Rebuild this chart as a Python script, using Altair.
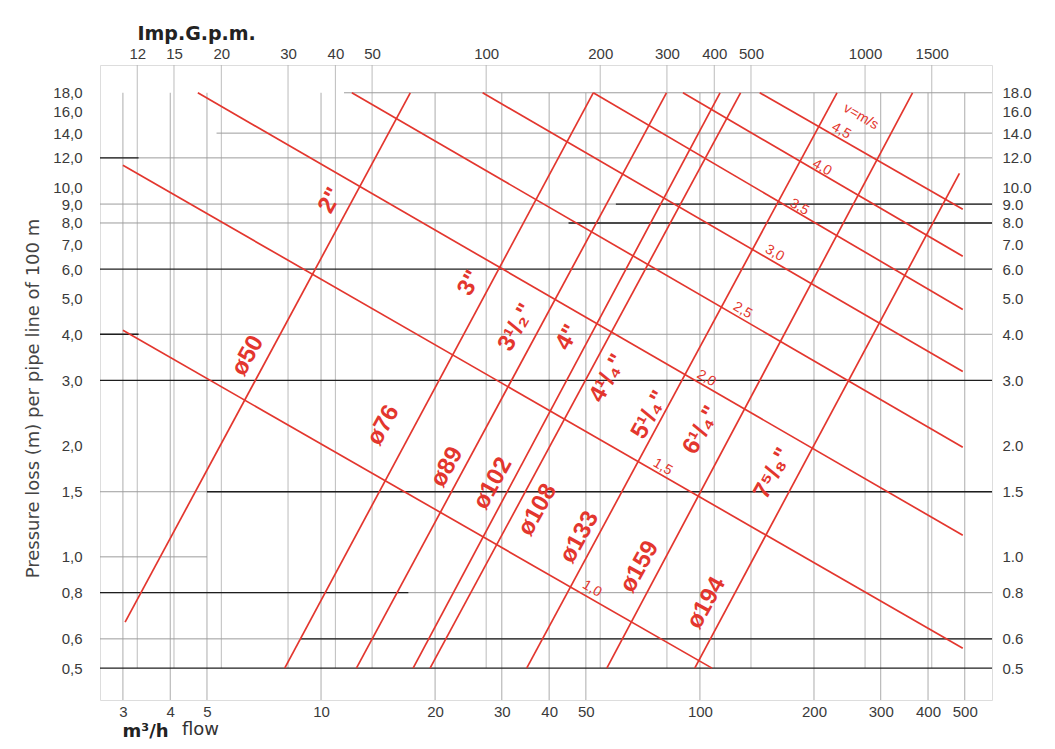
import altair as alt
import pandas as pd

# ---------------- data ----------------
X_MIN, X_MAX = 2.61, 590.0      # flow m3/h covered by the drawing area
Y_MIN, Y_MAX = 0.41, 21.4       # pressure loss m / 100 m covered by drawing area

flow_ticks = [3, 4, 5, 10, 20, 30, 40, 50, 100, 200, 300, 400, 500]
gpm_ticks = [12, 15, 20, 30, 40, 50, 100, 200, 300, 400, 500, 1000, 1500]
GPM_PER_M3H = 3.666
loss_ticks = [0.5, 0.6, 0.8, 1.0, 1.5, 2.0, 3.0, 4.0, 5.0, 6.0, 7.0, 8.0, 9.0,
              10.0, 12.0, 14.0, 16.0, 18.0]

# pipe lines (constant diameter)
pipe_mm = ["ø50", "ø76", "ø89", "ø102", "ø108", "ø133", "ø159", "ø194"]
pipe_inch = ['2"', '3"', '3¹/₂"', '4"', '4¹/₄"', '5¹/₄"', '6¹/₄"', '7⁵/₈"']
pipe_q1 = [3.04, 8.02, 12.4, 17.5, 19.4, 34.9, 56.8, 96.9]
pipe_j1 = [0.666, 0.5, 0.5, 0.5, 0.5, 0.5, 0.5, 0.5]
pipe_q2 = [17.2, 52.3, 81.6, 113, 128, 230, 364, 484]
pipe_j2 = [18, 18, 18, 18, 18, 18, 18, 10.9]
pipe_mm_q = [6.41, 14.6, 21.5, 28.4, 37.3, 48.1, 69.3, 104]
pipe_mm_j = [3.5, 2.27, 1.75, 1.58, 1.34, 1.13, 0.94, 0.75]
pipe_inch_q = [10.6, 24.7, 32.8, 44.8, 57.2, 73.8, 101, 156]
pipe_inch_j = [9.2, 5.5, 4.17, 3.92, 3.04, 2.42, 2.2, 1.68]

# velocity lines (v = m/s)
vel_names = ["1,0", "1,5", "2,0", "2,5", "3,0", "3,5", "4,0", "4,5"]
vel_q1 = [3, 3, 4.73, 12.06, 26.7, 52.3, 90.2, 143.8]
vel_j1 = [4.1, 11.46, 18, 18, 18, 18, 18, 18]
vel_q2 = [107.6, 494, 494, 494, 494, 494, 494, 494]
vel_j2 = [0.5, 0.566, 1.144, 1.98, 3.17, 4.67, 6.5, 8.71]
vel_label_q = [51.9, 79.8, 104, 129.6, 157.5, 183, 210, 236]
vel_label_j = [0.82, 1.75, 3.04, 4.64, 6.63, 8.83, 11.3, 14.2]
vel_unit_label = "v=m/s"
vel_unit_q, vel_unit_j = 266, 15.5

# horizontal grid segments (grey and black)
hgrey_value = [18, 14, 12, 9, 8, 4, 1.5, 1.0, 0.8, 0.6]
hgrey_from = [11.5, 5.3, X_MIN, X_MIN, X_MIN, X_MIN, X_MIN, X_MIN, X_MIN, X_MIN]
hgrey_to = [X_MAX, X_MAX, X_MAX, X_MAX, X_MAX, X_MAX, X_MAX, 5.0, X_MAX, X_MAX]
hdark_value = [12, 9, 8, 6, 4, 3, 1.5, 0.8, 0.6, 0.5]
hdark_from = [X_MIN, 60, 45, X_MIN, X_MIN, X_MIN, 5.0, X_MIN, 8.8, X_MIN]
hdark_to = [3.3, X_MAX, X_MAX, X_MAX, 3.3, X_MAX, X_MAX, 17, X_MAX, X_MAX]

# ---------------- tables ----------------
bottom_v = pd.DataFrame({"q": flow_ticks, "j": [Y_MIN] * len(flow_ticks),
                         "j2": [18] * len(flow_ticks)})
top_q = [g / GPM_PER_M3H for g in gpm_ticks]
top_v = pd.DataFrame({"q": top_q, "j": [0.5] * len(top_q), "j2": [Y_MAX] * len(top_q)})
hgrey = pd.DataFrame({"j": hgrey_value, "q": hgrey_from, "q2": hgrey_to})
hdark = pd.DataFrame({"j": hdark_value, "q": hdark_from, "q2": hdark_to})

rows = []
for i, n in enumerate(pipe_mm):
    rows.append({"id": "p" + n, "q": pipe_q1[i], "j": pipe_j1[i]})
    rows.append({"id": "p" + n, "q": pipe_q2[i], "j": pipe_j2[i]})
for i, n in enumerate(vel_names):
    rows.append({"id": "v" + n, "q": vel_q1[i], "j": vel_j1[i]})
    rows.append({"id": "v" + n, "q": vel_q2[i], "j": vel_j2[i]})
lines = pd.DataFrame(rows)

pipe_labels = pd.DataFrame({"t": pipe_mm + pipe_inch,
                            "q": pipe_mm_q + pipe_inch_q,
                            "j": pipe_mm_j + pipe_inch_j})
vel_labels = pd.DataFrame({"t": vel_names + [vel_unit_label],
                           "q": vel_label_q + [vel_unit_q],
                           "j": vel_label_j + [vel_unit_j]})

# ---------------- scales / styles ----------------
FONT = "Liberation Sans"
TFONT = "DejaVu Sans"
RED = "#e3362e"
xs = alt.Scale(type="log", domain=[X_MIN, X_MAX], nice=False)
ys = alt.Scale(type="log", domain=[Y_MIN, Y_MAX], nice=False)

ax_common = dict(domain=False, ticks=False, grid=False, labelFont=FONT,
                 labelColor="#3a3a3a", labelFontSize=15, labelOverlap=False,
                 labelFlush=False, titleFont=TFONT)

bottom_axis = alt.Axis(orient="bottom", values=flow_ticks, format="d", labelPadding=4,
                       title="m³/h", titleX=22, titleY=36, titleAlign="left",
                       titleBaseline="alphabetic", titleFontSize=18,
                       titleFontWeight="bold", titleColor="#222", **ax_common)
top_axis = alt.Axis(orient="top", values=top_q, labelPadding=4,
                    labelExpr="format(datum.value * 3.666, '.0f')",
                    title="Imp.G.p.m.", titleX=37, titleY=-26, titleAlign="left",
                    titleBaseline="alphabetic", titleFontSize=19,
                    titleFontWeight="bold", titleColor="#222", **ax_common)
left_axis = alt.Axis(orient="left", values=loss_ticks, labelPadding=18,
                     labelExpr="replace(format(datum.value, '.1f'), '.', ',')",
                     title="Pressure loss (m) per pipe line of 100 m", titleAngle=270,
                     titleX=-67, titleY=333, titleAlign="center", titleBaseline="middle",
                     titleFontSize=18, titleFontWeight="normal", titleColor="#444",
                     **ax_common)
right_axis = alt.Axis(orient="right", values=loss_ticks, format=".1f", labelPadding=10,
                      title="", **ax_common)

bottom_layer = alt.Chart(bottom_v).mark_rule(color="#a3a3a3", strokeWidth=0.9).encode(
    x=alt.X("q:Q", scale=xs, axis=bottom_axis),
    y=alt.Y("j:Q", scale=ys, axis=left_axis), y2="j2")
top_layer = alt.Chart(top_v).mark_rule(color="#b4b4b4", strokeWidth=0.9).encode(
    x=alt.X("q:Q", scale=xs, axis=top_axis),
    y=alt.Y("j:Q", scale=ys, axis=right_axis), y2="j2")

grey_h = alt.Chart(hgrey).mark_rule(color="#9c9c9c", strokeWidth=1).encode(
    x=alt.X("q:Q", scale=xs, axis=None), x2="q2",
    y=alt.Y("j:Q", scale=ys, axis=None))
dark_h = alt.Chart(hdark).mark_rule(color="#1e1e1e", strokeWidth=1.3).encode(
    x=alt.X("q:Q", scale=xs, axis=None), x2="q2",
    y=alt.Y("j:Q", scale=ys, axis=None))

red_lines = alt.Chart(lines).mark_line(color=RED, strokeWidth=1.7).encode(
    x=alt.X("q:Q", scale=xs, axis=None),
    y=alt.Y("j:Q", scale=ys, axis=None),
    detail="id:N")

pipe_text = alt.Chart(pipe_labels).mark_text(
    color=RED, font=FONT, fontSize=24, fontWeight="bold", angle=299,
    align="center", baseline="middle").encode(
    x=alt.X("q:Q", scale=xs, axis=None),
    y=alt.Y("j:Q", scale=ys, axis=None), text="t:N")

vel_text = alt.Chart(vel_labels).mark_text(
    color=RED, font=FONT, fontSize=14, angle=30,
    align="center", baseline="middle").encode(
    x=alt.X("q:Q", scale=xs, axis=None),
    y=alt.Y("j:Q", scale=ys, axis=None), text="t:N")

chart = alt.layer(bottom_layer, top_layer, grey_h, dark_h, red_lines, pipe_text,
                  vel_text).resolve_axis(x="independent", y="independent").properties(
    width=892, height=635,
    autosize=alt.AutoSizeParams(type="none"),
    padding={"left": 92, "top": 57, "right": 55, "bottom": 41},
    title=alt.TitleParams(text="flow", orient="bottom", anchor="start", frame="group",
                          dx=82, dy=-5, offset=0, baseline="alphabetic",
                          fontSize=18, fontWeight="normal", color="#333", font=TFONT),
).configure_view(stroke=None).configure(background="white")

chart.save("out.html", embed_options={"renderer": "svg", "actions": False})
